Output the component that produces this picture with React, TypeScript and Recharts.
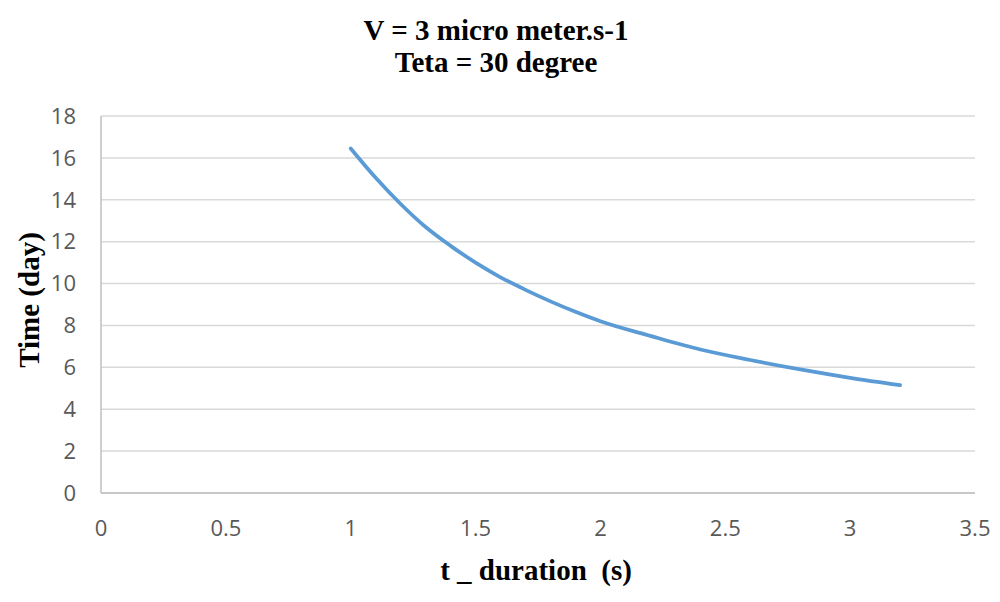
import React from 'react';
import { LineChart, Line, XAxis, YAxis, CartesianGrid } from 'recharts';

// values
const durations = [1.0, 1.1, 1.2, 1.3, 1.4, 1.5, 1.6, 1.7, 1.8, 1.9, 2.0, 2.2, 2.4, 2.6, 2.8, 3.0, 3.2];
const times = [16.45, 15.05, 13.8, 12.7, 11.8, 11.0, 10.3, 9.7, 9.15, 8.65, 8.2, 7.5, 6.85, 6.35, 5.9, 5.5, 5.15];
const xTicks = [0, 0.5, 1, 1.5, 2, 2.5, 3, 3.5];
const yTicks = [0, 2, 4, 6, 8, 10, 12, 14, 16, 18];

const titleLines = ['V = 3 micro meter.s-1', 'Teta = 30 degree'];
const xLabel = 't _ duration  (s)';
const yLabel = 'Time (day)';

const data = durations.map((t, i) => ({ t, time: times[i] }));

const tickStyle = { fill: '#595959', fontSize: 22, fontFamily: '"Open Sans", sans-serif' };
const serif = '"Liberation Serif", "Times New Roman", serif';

export default function App() {
  return (
    <div style={{ position: 'absolute', left: 0, top: 0, width: 1000, height: 602, background: '#fff' }}>
      <LineChart width={1000} height={602} data={data} margin={{ top: 116, right: 25, left: 0, bottom: 0 }}>
        <CartesianGrid vertical={false} stroke="#d9d9d9" strokeWidth={1.5} />
        <XAxis
          type="number"
          dataKey="t"
          domain={[0, 3.5]}
          ticks={xTicks}
          height={109}
          tickLine={false}
          tickSize={0}
          tickMargin={27}
          axisLine={{ stroke: '#bfbfbf', strokeWidth: 1.5 }}
          tick={tickStyle}
        />
        <YAxis
          type="number"
          domain={[0, 18]}
          ticks={yTicks}
          width={101}
          tickLine={false}
          tickSize={0}
          tickMargin={25}
          axisLine={{ stroke: '#bfbfbf', strokeWidth: 1.5 }}
          tick={tickStyle}
        />
        <Line
          type="monotone"
          dataKey="time"
          stroke="#5b9bd5"
          strokeWidth={3.75}
          strokeLinecap="round"
          dot={false}
          isAnimationActive={false}
        />
      </LineChart>
      <svg width={1000} height={602} style={{ position: 'absolute', left: 0, top: 0, pointerEvents: 'none' }}>
        <g fontFamily={serif} fontWeight="bold" fontSize={29} fill="#000">
          <text x={496} y={40} textAnchor="middle">{titleLines[0]}</text>
          <text x={496} y={72} textAnchor="middle">{titleLines[1]}</text>
          <text x={536} y={580} textAnchor="middle" style={{ whiteSpace: 'pre' }}>{xLabel}</text>
          <text x={39} y={300} textAnchor="middle" transform="rotate(-90 39 300)">{yLabel}</text>
        </g>
      </svg>
    </div>
  );
}
